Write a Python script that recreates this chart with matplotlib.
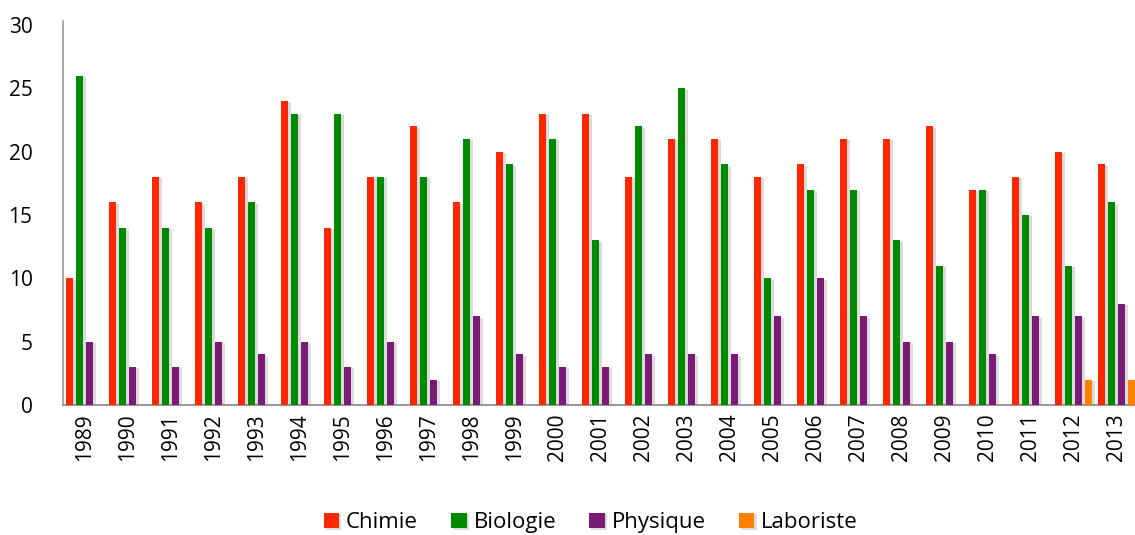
import matplotlib
matplotlib.use("Agg")
import matplotlib.pyplot as plt
import matplotlib.patheffects as pe
import numpy as np

plt.rcParams["font.family"] = ["Open Sans", "DejaVu Sans"]

years = [str(y) for y in range(1989, 2014)]
chimie = [10, 16, 18, 16, 18, 24, 14, 18, 22, 16, 20, 23, 23, 18, 21, 21, 18, 19, 21, 21, 22, 17, 18, 20, 19]
biologie = [26, 14, 14, 14, 16, 23, 23, 18, 18, 21, 19, 21, 13, 22, 25, 19, 10, 17, 17, 13, 11, 17, 15, 11, 16]
physique = [5, 3, 3, 5, 4, 5, 3, 5, 2, 7, 4, 3, 3, 4, 4, 4, 7, 10, 7, 5, 5, 4, 7, 7, 8]
laboriste = [0, 0, 0, 0, 0, 0, 0, 0, 0, 0, 0, 0, 0, 0, 0, 0, 0, 0, 0, 0, 0, 0, 0, 2, 2]

series = [
    ("Chimie", chimie, "#FF2600"),
    ("Biologie", biologie, "#008A00"),
    ("Physique", physique, "#7B1A74"),
    ("Laboriste", laboriste, "#FF7F00"),
]

fig = plt.figure(figsize=(11.35, 5.35), dpi=100)
ax = fig.add_axes([63 / 1135, 1 - 405 / 535, 1075 / 1135, 380 / 535])

x = np.arange(len(years))
slot = 0.2326
width = 0.185
shadow = [pe.SimplePatchShadow(offset=(1.5, -1), shadow_rgbFace="#999999", alpha=0.35), pe.Normal()]
for i, (name, vals, col) in enumerate(series):
    bars = ax.bar(x + (i - 1.5) * slot, vals, width, color=col, label=name, zorder=3)
    for b in bars:
        b.set_path_effects(shadow)

ax.set_xlim(-0.5, len(years) - 0.5)
ax.set_ylim(0, 30)
ax.set_yticks(range(0, 31, 5))
ax.set_xticks(x)
ax.set_xticklabels(years, rotation=90, fontsize=15)
ax.tick_params(axis="y", length=0, pad=22, labelsize=15)
ax.tick_params(axis="x", length=0, pad=6)

for s in ["top", "right"]:
    ax.spines[s].set_visible(False)
ax.spines["left"].set_color("#999999")
ax.spines["bottom"].set_color("#999999")
ax.spines["left"].set_linewidth(1.2)
ax.spines["bottom"].set_linewidth(1.5)
ax.spines["left"].set_bounds(0, 30.3)
ax.spines["left"].set_clip_on(False)

ax.legend(loc="center", bbox_to_anchor=(0.491, -0.31), ncol=4, frameon=False,
          fontsize=16, handlelength=0.7, handleheight=0.7, handletextpad=0.3, columnspacing=1.5)

plt.savefig("out.png", dpi=100)
